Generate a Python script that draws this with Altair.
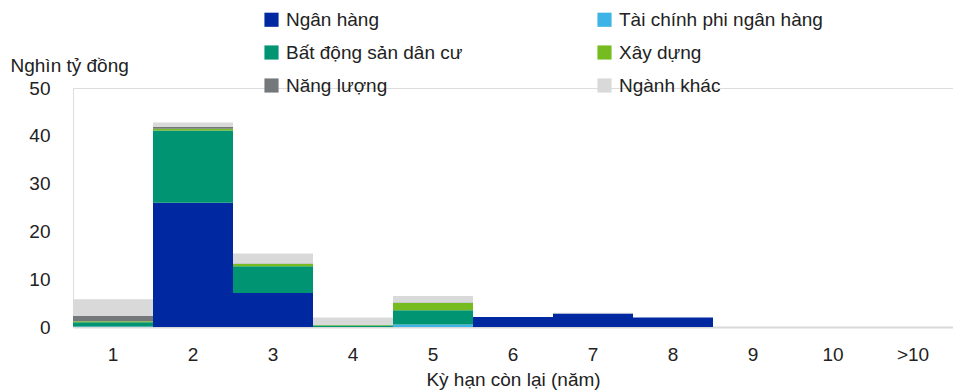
import altair as alt
import pandas as pd

categories = ["1", "2", "3", "4", "5", "6", "7", "8", "9", "10", ">10"]
series_names = ["Ngân hàng", "Tài chính phi ngân hàng", "Bất động sản dân cư",
                "Xây dựng", "Năng lượng", "Ngành khác"]
series_colors = ["#0028a0", "#3cb4e5", "#009473", "#76bc21", "#75787b", "#d9d9d9"]
# legend fills columns first: reorder so rows read as in the reference
legend_order = [0, 2, 4, 1, 3, 5]

ngan_hang = [0, 26.0, 7.1, 0, 0, 2.1, 2.8, 2.0, 0, 0, 0]
tai_chinh = [0.1, 0, 0, 0, 0.5, 0, 0, 0, 0, 0, 0]
bat_dong_san = [0.9, 15.1, 5.6, 0.3, 3.0, 0, 0, 0, 0, 0, 0]
xay_dung = [0.2, 0.4, 0.5, 0.1, 1.5, 0, 0, 0, 0, 0, 0]
nang_luong = [1.1, 0.4, 0.1, 0, 0.1, 0, 0, 0, 0, 0, 0]
nganh_khac = [3.5, 0.9, 2.1, 1.6, 1.4, 0, 0.2, 0, 0, 0, 0]

all_series = [ngan_hang, tai_chinh, bat_dong_san, xay_dung, nang_luong, nganh_khac]
rows = []
for si, (name, vals) in enumerate(zip(series_names, all_series)):
    for c, v in zip(categories, vals):
        if v > 0:
            rows.append({"cat": c, "series": name, "value": v, "order": si})
df = pd.DataFrame(rows)

dom = [series_names[i] for i in legend_order]
rng = [series_colors[i] for i in legend_order]

FONT = "Liberation Sans"

chart = alt.Chart(df).mark_bar(strokeWidth=0).encode(
    x=alt.X("cat:N", sort=categories,
            scale=alt.Scale(domain=categories, paddingInner=0, paddingOuter=0),
            axis=alt.Axis(title="Kỳ hạn còn lại (năm)", labelAngle=0, ticks=False,
                          domainColor="#d9d9d9", domainWidth=2, labelPadding=18,
                          labelFontSize=19, titleFontSize=19, titleFontWeight="normal",
                          titlePadding=6, labelColor="#222", titleColor="#222")),
    y=alt.Y("value:Q", stack="zero",
            scale=alt.Scale(domain=[0, 50], nice=False),
            axis=alt.Axis(values=[0, 10, 20, 30, 40, 50], grid=False, ticks=False,
                          domain=False, labelPadding=23, labelFontSize=19,
                          labelColor="#222",
                          title="Nghìn tỷ đồng", titleAngle=0, titleAlign="left",
                          titleBaseline="middle", titleX=-63, titleY=-23,
                          titleFontSize=19, titleFontWeight="normal", titleColor="#222")),
    color=alt.Color("series:N", sort=dom,
                    scale=alt.Scale(domain=dom, range=rng),
                    legend=alt.Legend(title=None, orient="none", legendX=189, legendY=-78,
                                      columns=2, columnPadding=132, rowPadding=13,
                                      symbolType="square", symbolSize=200,
                                      symbolStrokeWidth=0, labelFontSize=19,
                                      labelColor="#222", labelOffset=5, labelLimit=400)),
    order=alt.Order("order:Q"),
).properties(
    width=880, height=239,
    autosize=alt.AutoSizeParams(type="none"),
    padding={"left": 73, "top": 88, "right": 0, "bottom": 65},
).configure_view(stroke=None).configure(font=FONT)

chart.save("out.html", embed_options={"renderer": "svg", "actions": False})
